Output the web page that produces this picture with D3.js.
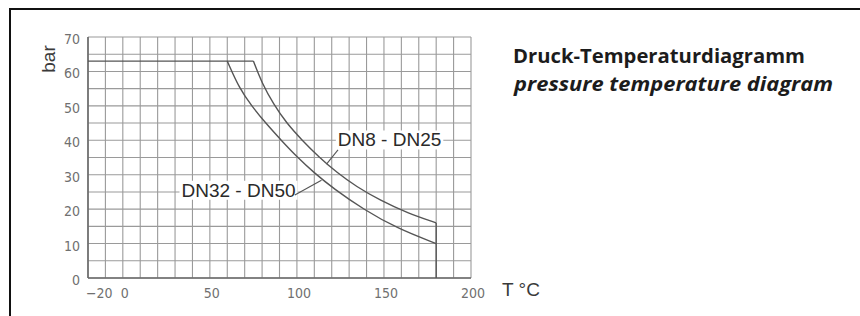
<!DOCTYPE html>
<html>
<head>
<meta charset="utf-8">
<script src="https://cdn.jsdelivr.net/npm/d3@7"></script>
<style>
  body { margin: 0; background: #fff; }
  svg { display: block; }
</style>
</head>
<body>
<div id="chart"></div>
<script>
'use strict';

// axis ticks
const tempTicks = [-20, 0, 50, 100, 150, 200];
const barTicks = [0, 10, 20, 30, 40, 50, 60, 70];

// max. pressure plateau
const plateauBar = 63;
const plateauTemp = [-20, 75];

// DN8 - DN25 curve
const dn8Temp = [75, 80, 86.6, 94, 103, 112.5, 123, 134, 148, 163, 180];
const dn8Bar  = [63, 56.5, 50.5, 45, 40, 35.2, 30.6, 26.6, 22.5, 19, 16];

// DN32 - DN50 curve
const dn32Temp = [60, 67, 74, 82, 91, 100, 110, 121, 138, 158, 180];
const dn32Bar  = [63, 55, 50, 45, 40, 35.2, 30.5, 26, 20, 14.3, 10];

const maxTemp = 180;

(function() {
  const width = 860, height = 316;

  const svg = d3.select('#chart')
    .append('svg')
    .attr('width', width)
    .attr('height', height);

  // outer frame (runs off the right and bottom edge)
  svg.append('rect')
    .attr('x', 10).attr('y', 9)
    .attr('width', 900).attr('height', 400)
    .attr('fill', 'none')
    .attr('stroke', '#111')
    .attr('stroke-width', 2);

  const x = d3.scaleLinear().domain([-20, 200]).range([88, 471]);
  const y = d3.scaleLinear().domain([0, 70]).range([278, 37]);

  const g = svg.append('g');

  // grid
  const vLines = d3.range(-20, 201, 10);
  const hLines = d3.range(0, 71, 5);

  g.selectAll('.vgrid')
    .data(vLines)
    .enter()
    .append('line')
    .attr('x1', d => x(d)).attr('x2', d => x(d))
    .attr('y1', y(0)).attr('y2', y(70))
    .attr('stroke', '#9a9a9a')
    .attr('stroke-width', 1.1);

  g.selectAll('.hgrid')
    .data(hLines)
    .enter()
    .append('line')
    .attr('y1', d => y(d)).attr('y2', d => y(d))
    .attr('x1', x(-20)).attr('x2', x(200))
    .attr('stroke', '#9a9a9a')
    .attr('stroke-width', 1.1);

  // left and bottom axis lines
  g.append('line')
    .attr('x1', x(-20)).attr('x2', x(-20))
    .attr('y1', y(0)).attr('y2', y(70))
    .attr('stroke', '#6a6a6a').attr('stroke-width', 1.6);
  g.append('line')
    .attr('x1', x(-20)).attr('x2', x(200))
    .attr('y1', y(0)).attr('y2', y(0))
    .attr('stroke', '#6a6a6a').attr('stroke-width', 1.6);

  // tick labels
  const tickFont = '"Liberation Sans Narrow", "DejaVu Sans Condensed", sans-serif';

  g.selectAll('.ylab')
    .data(barTicks)
    .enter()
    .append('text')
    .attr('x', 80)
    .attr('y', d => y(d) + 7)
    .attr('text-anchor', 'end')
    .attr('font-family', tickFont)
    .attr('font-size', 14)
    .attr('fill', '#707070')
    .text(d => d);

  g.selectAll('.xlab')
    .data(tempTicks)
    .enter()
    .append('text')
    .attr('x', d => d === -20 ? x(d) - 2 : x(d) + 2)
    .attr('y', 298)
    .attr('text-anchor', d => d === -20 ? 'start' : 'middle')
    .attr('font-family', tickFont)
    .attr('font-size', 14)
    .attr('fill', '#707070')
    .text(d => d < 0 ? '\u2212' + Math.abs(d) : d);

  // axis titles
  svg.append('text')
    .attr('transform', 'translate(55,59) rotate(-90)')
    .attr('text-anchor', 'middle')
    .attr('font-family', 'Liberation Sans, Arial, sans-serif')
    .attr('font-size', 19)
    .attr('fill', '#3a3a3a')
    .text('bar');

  svg.append('text')
    .attr('x', 502)
    .attr('y', 296)
    .attr('font-family', 'Liberation Sans, Arial, sans-serif')
    .attr('font-size', 19)
    .attr('fill', '#3a3a3a')
    .text('T °C');

  // curves
  const lineStyle = sel => sel
    .attr('fill', 'none')
    .attr('stroke', '#555')
    .attr('stroke-width', 1.4);

  const straight = d3.line().x(d => x(d[0])).y(d => y(d[1]));
  const smooth = d3.line().x(d => x(d[0])).y(d => y(d[1])).curve(d3.curveBasis);

  g.append('path')
    .attr('d', straight(plateauTemp.map(t => [t, plateauBar])))
    .call(lineStyle);

  g.append('path')
    .attr('d', smooth(dn8Temp.map((t, i) => [t, dn8Bar[i]])))
    .call(lineStyle);

  g.append('path')
    .attr('d', smooth(dn32Temp.map((t, i) => [t, dn32Bar[i]])))
    .call(lineStyle);

  g.append('path')
    .attr('d', straight([[maxTemp, dn8Bar[dn8Bar.length - 1]], [maxTemp, 0]]))
    .call(lineStyle);

  // curve labels with white background and leader line
  const labels = [
    { text: 'DN8 - DN25', tx: 123.5, ty: 38.2, from: [117, 33.1], to: [123.6, 37.2] },
    { text: 'DN32 - DN50', tx: 33.7, ty: 23.6, from: [114.1, 28.4], to: [98.8, 24.1] }
  ];

  labels.forEach(l => {
    const t = g.append('text')
      .attr('x', x(l.tx))
      .attr('y', y(l.ty))
      .attr('font-family', 'Liberation Sans, Arial, sans-serif')
      .attr('font-size', 19)
      .attr('fill', '#2a2a2a')
      .text(l.text);
    const bb = t.node().getBBox();
    g.insert('rect', () => t.node())
      .attr('x', bb.x - 2).attr('y', bb.y + 1)
      .attr('width', bb.width + 4).attr('height', bb.height - 2)
      .attr('fill', '#fff');
    g.append('line')
      .attr('x1', x(l.from[0])).attr('y1', y(l.from[1]))
      .attr('x2', x(l.to[0])).attr('y2', y(l.to[1]))
      .attr('stroke', '#555')
      .attr('stroke-width', 1.1);
  });

  // title
  svg.append('text')
    .attr('x', 513)
    .attr('y', 63)
    .attr('font-family', '"Open Sans", "DejaVu Sans", sans-serif')
    .attr('font-weight', 'bold')
    .attr('font-size', 20)
    .attr('fill', '#1c1c1c')
    .attr('textLength', 292)
    .attr('lengthAdjust', 'spacingAndGlyphs')
    .text('Druck-Temperaturdiagramm');

  svg.append('text')
    .attr('x', 514)
    .attr('y', 91)
    .attr('font-family', '"Open Sans", "DejaVu Sans", sans-serif')
    .attr('font-weight', 'bold')
    .attr('font-style', 'italic')
    .attr('font-size', 20)
    .attr('fill', '#1c1c1c')
    .attr('textLength', 319)
    .attr('lengthAdjust', 'spacingAndGlyphs')
    .text('pressure temperature diagram');
})();
</script>
</body>
</html>
